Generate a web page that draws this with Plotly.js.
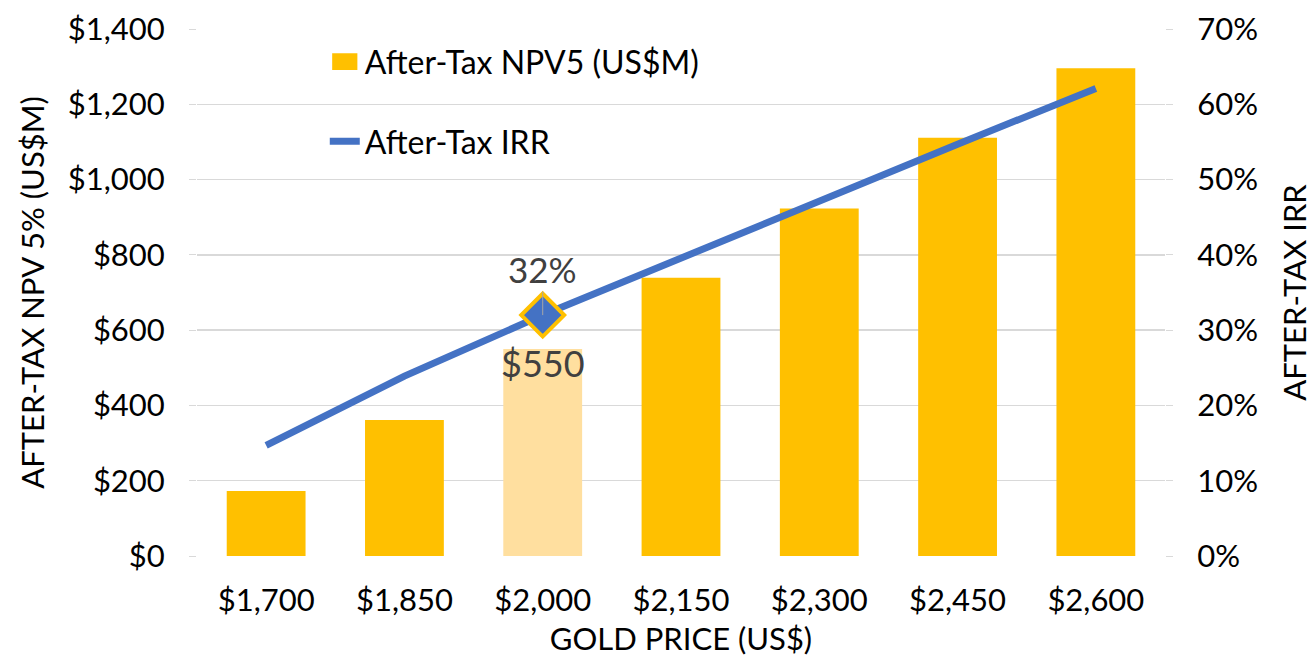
<!DOCTYPE html>
<html>
<head>
<meta charset="utf-8">
<script src="https://cdn.plot.ly/plotly-3.0.1.min.js"></script>
<style>html,body{margin:0;padding:0;background:#fff;}#chart{width:1314px;height:661px;}</style>
</head>
<body>
<div id="chart"></div>
<script>
// ---- data ----
const goldPrices = ["$1,700", "$1,850", "$2,000", "$2,150", "$2,300", "$2,450", "$2,600"];
const npvValues = [173, 361, 550, 739, 923, 1111, 1296];   // After-Tax NPV5 (US$M)
const irrValues = [0.147, 0.239, 0.32, 0.396, 0.471, 0.547, 0.621]; // After-Tax IRR
const baseCaseIndex = 2; // $2,000 base case highlighted
const seriesNames = ["After-Tax NPV5 (US$M)", "After-Tax IRR"];

const barColors = goldPrices.map((_, i) => i === baseCaseIndex ? "#FFDF9F" : "#FFC000");
const FONT = "Lato, 'DejaVu Sans', sans-serif";
const FS = 31;

const traces = [
  {
    type: "bar", name: seriesNames[0], x: goldPrices, y: npvValues,
    marker: { color: barColors, line: { width: 0 } },
    legendgroup: "a", hoverinfo: "x+y"
  },
  {
    type: "scatter", mode: "lines", name: seriesNames[1], x: goldPrices, y: irrValues,
    yaxis: "y2", line: { color: "#4472C4", width: 7 },
    legendgroup: "b"
  },
  {
    type: "scatter", mode: "markers", showlegend: false,
    x: [goldPrices[baseCaseIndex]], y: [irrValues[baseCaseIndex]], yaxis: "y2",
    marker: { symbol: "diamond", size: 33, color: "#4472C4", line: { color: "#FFC000", width: 4 } }
  }
];

const layout = {
  width: 1314, height: 661,
  margin: { l: 197, r: 149, t: 29, b: 105 },
  paper_bgcolor: "#fff", plot_bgcolor: "#fff",
  font: { family: FONT, size: FS, color: "#000" },
  bargap: 0.43,
  showlegend: true,
  legend: {
    x: 0.132, y: 0.99, xanchor: "left", yanchor: "top",
    bgcolor: "rgba(0,0,0,0)", font: { family: FONT, size: 32, color: "#000" },
    traceorder: "grouped", tracegroupgap: 35
  },
  xaxis: {
    type: "category", showgrid: false, zeroline: false, showline: false,
    ticks: "", tickfont: { family: FONT, size: FS, color: "#000" },
    ticklabelstandoff: 23,
    title: { text: "GOLD PRICE (US$)", font: { family: FONT, size: FS, color: "#000" }, standoff: 11 }
  },
  yaxis: {
    range: [0, 1400], dtick: 200, tick0: 0, tickprefix: "$", tickformat: ",d",
    showgrid: true, gridcolor: "#D9D9D9", gridwidth: 1.3, zeroline: false, showline: false,
    ticks: "outside", ticklen: 7, tickcolor: "#D9D9D9",
    tickfont: { family: FONT, size: FS, color: "#000" }, ticklabelstandoff: 18,
    title: { text: "AFTER-TAX NPV 5% (US$M)", font: { family: FONT, size: FS, color: "#000" }, standoff: 14 }
  },
  yaxis2: {
    overlaying: "y", side: "right", range: [0, 0.7], dtick: 0.1, tick0: 0, tickformat: ".0%",
    showgrid: false, zeroline: false, showline: false,
    ticks: "outside", ticklen: 7, tickcolor: "#D9D9D9",
    tickfont: { family: FONT, size: FS, color: "#000" }, ticklabelstandoff: 18,
    title: { text: "AFTER-TAX IRR", font: { family: FONT, size: FS, color: "#000" }, standoff: 27 }
  },
  annotations: [
    {
      x: goldPrices[baseCaseIndex], y: irrValues[baseCaseIndex], xref: "x", yref: "y2",
      text: Math.round(irrValues[baseCaseIndex] * 100) + "%",
      showarrow: true, arrowhead: 0, arrowwidth: 1, arrowcolor: "#A6A6A6", ax: 0, ay: -46,
      font: { family: FONT, size: 35, color: "#404040" }
    },
    {
      x: goldPrices[baseCaseIndex], y: npvValues[baseCaseIndex], xref: "x", yref: "y",
      text: "$" + npvValues[baseCaseIndex], showarrow: false, yanchor: "top", yshift: 10,
      font: { family: FONT, size: 36, color: "#404040" }
    }
  ]
};

Plotly.newPlot("chart", traces, layout, { displayModeBar: false, staticPlot: true }).then(function (gd) {
  // enlarge the legend swatch of the bar series to match the reference
  const pts = gd.querySelectorAll(".legend .traces");
  if (pts[0]) {
    const p = pts[0].querySelector(".legendpoints path");
    if (p) p.setAttribute("transform", "translate(20,0) scale(2.1,1.4)");
  }
});
</script>
</body>
</html>
